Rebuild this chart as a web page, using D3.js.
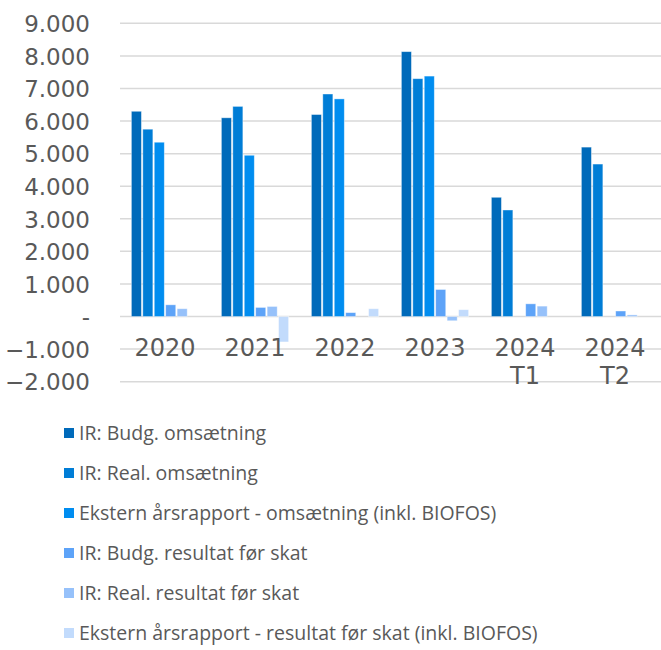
<!DOCTYPE html>
<html>
<head>
<meta charset="utf-8">
<script src="https://cdn.jsdelivr.net/npm/d3@7/dist/d3.min.js"></script>
<style>
html,body{margin:0;padding:0;background:#fff;}
svg{display:block;}
</style>
</head>
<body>
<script>
const categories = [["2020"],["2021"],["2022"],["2023"],["2024","T1"],["2024","T2"]];
const seriesNames = [
  "IR: Budg. omsætning",
  "IR: Real. omsætning",
  "Ekstern årsrapport - omsætning (inkl. BIOFOS)",
  "IR: Budg. resultat før skat",
  "IR: Real. resultat før skat",
  "Ekstern årsrapport - resultat før skat (inkl. BIOFOS)"
];
const budgOms   = [6300, 6100, 6200, 8130, 3660, 5200];
const realOms   = [5750, 6450, 6830, 7300, 3270, 4680];
const eksternOms= [5350, 4950, 6680, 7380, 0, 0];
const budgRes   = [360, 280, 120, 830, 390, 170];
const realRes   = [240, 310, 0, -130, 320, 50];
const eksternRes= [0, -780, 240, 210, 0, 0];
const seriesValues = [budgOms, realOms, eksternOms, budgRes, realRes, eksternRes];
const yTicks = [-2000,-1000,0,1000,2000,3000,4000,5000,6000,7000,8000,9000];
const colors = ["#006ABA","#007DD6","#008DF0","#5DA3F8","#96C1FA","#C2DBFC"];

const W = 661, H = 650;
const svg = d3.select("body").append("svg").attr("width", W).attr("height", H);

const y = d3.scaleLinear().domain([-2000, 9000]).range([381.7, 23.3]);
const x0 = d3.scaleBand().domain(categories.map((d,i)=>i)).range([120, 660]).paddingInner(0.222).paddingOuter(0.111);
const x1 = d3.scaleBand().domain(seriesNames.map((d,i)=>i)).range([0, x0.bandwidth()]).padding(0.12);

const fmt = v => v === 0 ? "-" : d3.format(",")(v).replace(/,/g, ".");

// gridlines
svg.append("g").selectAll("line").data(yTicks).join("line")
  .attr("x1", 120).attr("x2", 661)
  .attr("y1", d => y(d)).attr("y2", d => y(d))
  .attr("stroke", "#d9d9d9").attr("stroke-width", 1.5);

// y labels
const yAxis = d3.axisLeft(y).tickValues(yTicks).tickFormat(fmt).tickSize(0).tickPadding(0);
const gy = svg.append("g").attr("transform", "translate(90,0)").call(yAxis);
gy.select(".domain").remove();
gy.selectAll("text").attr("font-family","DejaVu Sans").attr("font-size", 23).attr("fill", "#595959").attr("dy","0.36em");

// bars
const groups = svg.append("g").selectAll("g").data(categories.map((c,i)=>i)).join("g")
  .attr("transform", i => `translate(${x0(i)},0)`);
groups.selectAll("rect").data(i => seriesValues.map((s,k)=>({k, v:s[i]})).filter(d => d.v !== 0)).join("rect")
  .attr("x", d => x1(d.k))
  .attr("width", x1.bandwidth())
  .attr("y", d => y(Math.max(0, d.v)))
  .attr("height", d => Math.abs(y(d.v) - y(0)))
  .attr("fill", d => colors[d.k])
  .attr("stroke", "rgba(255,255,255,0.5)").attr("stroke-width", 0.8);

// x labels
const xl = svg.append("g").selectAll("text").data(categories.map((c,i)=>i)).join("text")
  .attr("x", i => x0(i) + x0.bandwidth()/2)
  .attr("y", 356)
  .attr("text-anchor","middle")
  .attr("font-family","DejaVu Sans").attr("font-size", 24).attr("fill","#595959");
xl.selectAll("tspan").data(i => categories[i]).join("tspan")
  .attr("x", function(){ return d3.select(this.parentNode).attr("x"); })
  .attr("dy", (d,j) => j === 0 ? 0 : 28)
  .text(d => d);

// legend
const lg = svg.append("g").selectAll("g").data(seriesNames).join("g")
  .attr("transform", (d,i) => `translate(64,${433 + i*40})`);
lg.append("rect").attr("x",0).attr("y",-5).attr("width",10).attr("height",10).attr("fill",(d,i)=>colors[i]);
lg.append("text").attr("x",15).attr("y",0).attr("dy","0.36em")
  .attr("font-family","Open Sans").attr("font-size",19.5).attr("fill","#595959")
  .text(d => d);
</script>
</body>
</html>
